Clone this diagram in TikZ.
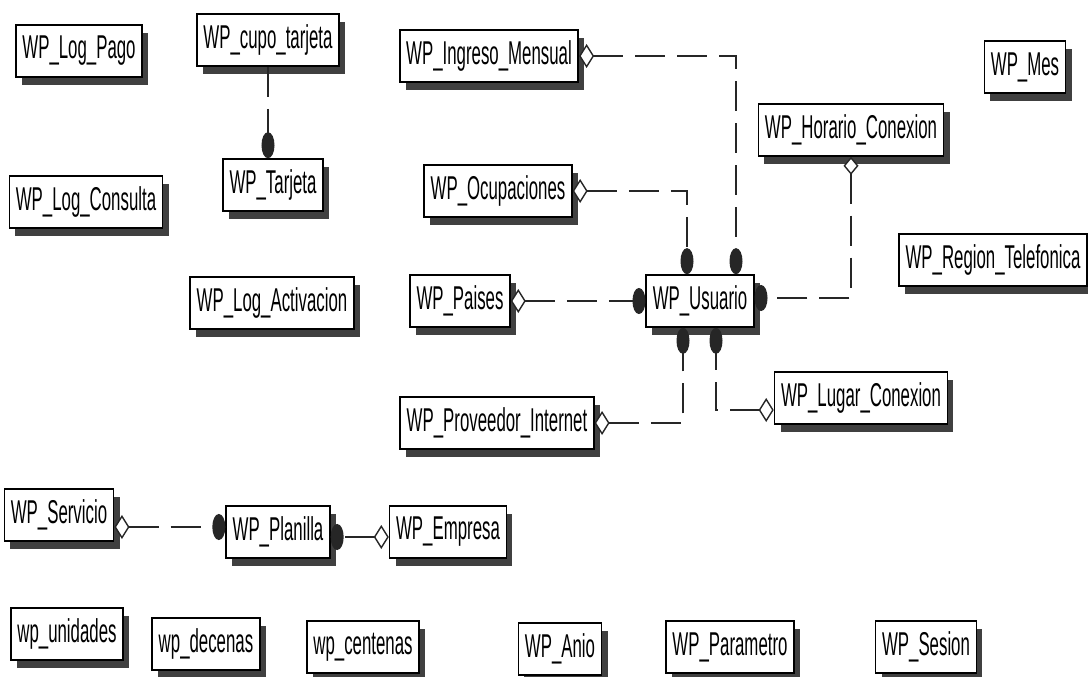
\documentclass[tikz,border=0pt]{standalone}
\usepackage{fontspec}
\newfontfamily\entfont{Liberation Sans}[FakeStretch=0.51]
\usetikzlibrary{arrows.meta,shadows,positioning}
\tikzset{entity/.style={rectangle,draw=black,line width=1.6pt,fill=white,minimum height=52pt,inner xsep=6.5pt,
             font=\entfont\fontsize{33}{34}\selectfont,
             drop shadow={shadow xshift=6pt,shadow yshift=-8pt,fill=black!75,opacity=1}},
         rel/.style={draw=black!85,line width=1.4pt,dash pattern=on 30pt off 12pt},
         hollowH/.tip={Diamond[fill=white,length=15pt,width=24pt]},
         hollowV/.tip={Diamond[fill=white,length=18pt,width=15pt]},
         dotH/.tip={Ellipse[length=13pt,width=26pt]},
         dotV/.tip={Ellipse[length=26pt,width=13pt]}
}
\begin{document}
\begin{tikzpicture}[x=1pt,y=-1pt]
\useasboundingbox (0,0) rectangle (1088,677);
\node[entity] (logpago) at (79,51) {WP\_Log\_Pago};
\node[entity] (cupo) at (268,40) {WP\_cupo\_tarjeta};
\node[entity] (tarjeta) at (273,185) {WP\_Tarjeta};
\node[entity] (logcons) at (86,202) {WP\_Log\_Consulta};
\node[entity] (logact) at (272,303) {WP\_Log\_Activacion};
\node[entity] (ingreso) at (489,56) {WP\_Ingreso\_Mensual};
\node[entity] (ocup) at (498,191) {WP\_Ocupaciones};
\node[entity] (paises) at (460,301) {WP\_Paises};
\node[entity] (usuario) at (700,301) {WP\_Usuario};
\node[entity] (proveedor) at (497,423) {WP\_Proveedor\_Internet};
\node[entity] (lugar) at (861,398) {WP\_Lugar\_Conexion};
\node[entity] (horario) at (851,130) {WP\_Horario\_Conexion};
\node[entity] (mes) at (1025,67) {WP\_Mes};
\node[entity] (region) at (993,260) {WP\_Region\_Telefonica};
\node[entity] (servicio) at (59,515) {WP\_Servicio};
\node[entity] (planilla) at (278,532) {WP\_Planilla};
\node[entity] (empresa) at (448,532) {WP\_Empresa};
\node[entity] (unidades) at (67,634) {wp\_unidades};
\node[entity] (decenas) at (206,644) {wp\_decenas};
\node[entity] (centenas) at (363,647) {wp\_centenas};
\node[entity] (anio) at (560,649) {WP\_Anio};
\node[entity] (parametro) at (730,647) {WP\_Parametro};
\node[entity] (sesion) at (926,647) {WP\_Sesion};

\coordinate (usu top1) at ([xshift=-13pt]usuario.north);
\coordinate (usu top2) at ([xshift=36pt]usuario.north);
\coordinate (usu bot1) at ([xshift=-17pt]usuario.south);
\coordinate (usu bot2) at ([xshift=16pt]usuario.south);
\coordinate (usu right) at ([yshift=3pt]usuario.east);

\draw[rel,{hollowH}-{dotV}] (ingreso.east) -| (usu top2);
\draw[rel,{hollowH}-{dotV}] (ocup.east) -| (usu top1);
\draw[rel,{hollowV}-{dotH}] (horario.south) |- (usu right);
\draw[rel,{hollowH}-{dotH}] (paises.east) -- (usuario.west);
\draw[rel,{hollowH}-{dotV}] (proveedor.east) -| (usu bot1);
\draw[rel,{hollowH}-{dotV}] ([yshift=-12pt]lugar.west) -| (usu bot2);
\draw[rel,-{dotV}] (cupo.south) -- (cupo.south |- tarjeta.north);
\draw[rel,{hollowH}-{dotH}] ([yshift=-12pt]servicio.east) -- ([yshift=5pt]planilla.west);
\draw[rel,{hollowH}-{dotH}] ([yshift=-5pt]empresa.west) -- ([yshift=-5pt]planilla.east);
\end{tikzpicture}
\end{document}
